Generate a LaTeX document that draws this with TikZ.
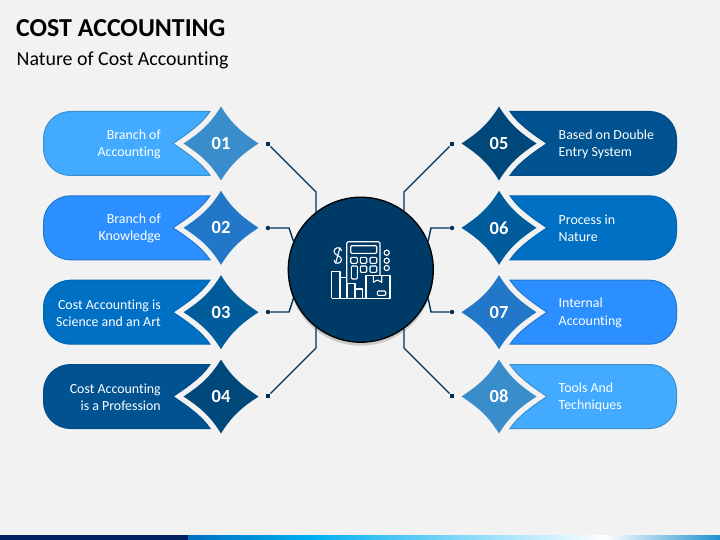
\documentclass[tikz,border=0pt]{standalone}
\usepackage{fontspec}
\setmainfont{Carlito}[Ligatures=NoCommon]
\usetikzlibrary{calc}
\usetikzlibrary{shadows}
\definecolor{pagebg}{HTML}{F2F2F2}
\definecolor{hubblue}{HTML}{003A66}
\definecolor{linkblue}{HTML}{00305A}
\tikzset{
  pill1/.style={fill={rgb,255:red,66;green,171;blue,255},draw={rgb,255:red,58;green,143;blue,207}},
  gem1/.style={fill={rgb,255:red,57;green,141;blue,203}},
  pill2/.style={fill={rgb,255:red,43;green,143;blue,255},draw={rgb,255:red,34;green,119;blue,204}},
  gem2/.style={fill={rgb,255:red,34;green,119;blue,200}},
  pill3/.style={fill={rgb,255:red,0;green,112;blue,196},draw={rgb,255:red,0;green,102;blue,176}},
  gem3/.style={fill={rgb,255:red,0;green,92;blue,155}},
  pill4/.style={fill={rgb,255:red,0;green,82;blue,144},draw={rgb,255:red,0;green,75;blue,132}},
  gem4/.style={fill={rgb,255:red,0;green,71;blue,122}},
  gemnum/.style={text=white,font=\fontsize{18.5}{20}\selectfont\bfseries,inner sep=0pt},
  lefttext/.style={text=white,anchor=east,align=right,inner sep=0pt,font=\fontsize{13.9}{17.3}\selectfont},
  righttext/.style={text=white,anchor=west,align=left,inner sep=0pt,font=\fontsize{13.9}{17.3}\selectfont},
  link/.style={draw=linkblue,line width=1.4pt},
  enddot/.style={fill=linkblue,circle,inner sep=0pt,minimum size=4.5pt},
  endsquare/.style={fill=linkblue,rectangle,inner sep=0pt,minimum size=4.5pt},
  icon/.style={draw=white,line width=1.1pt,line join=round},
}
\newcommand\petal[4]{
\begin{scope}[shift={(360,#2)},xscale=#1]
\path[pill#3,line width=1pt] (150,-32) -- (289.5,-32) arc (-90:0:27) -- (316.5,5) arc (0:90:27) -- (150,32)
  .. controls (158,20) and (172,10) .. (187,0) .. controls (172,-10) and (158,-20) .. (150,-32) -- cycle;
\fill[gem#3] (139,-37) .. controls (149.5,-20) and (159,-11.5) .. (176.5,0) .. controls (159,11.5) and (149.5,20) .. (139,37)
  .. controls (128.5,20) and (119,11.5) .. (101.5,0) .. controls (119,-11.5) and (128.5,-20) .. (139,-37) -- cycle;
\node[gemnum] (n#4) at (139,0) {#4};
\end{scope}
}

\begin{document}
\begin{tikzpicture}[x=1pt,y=-1pt]

\useasboundingbox (0,0) rectangle (720,540);
\fill[pagebg] (0,0) rectangle (720,540);

\node[anchor=base west,inner sep=0pt,font=\fontsize{25.9}{28}\selectfont\bfseries] (title) at (16,36.6) {COST ACCOUNTING};
\node[anchor=base west,inner sep=0pt,font=\fontsize{19.9}{22}\selectfont] (subtitle) at (16.5,66) {Nature of Cost Accounting};

\petal{-1}{143.5}{1}{01}
\petal{-1}{227.8}{2}{02}
\petal{-1}{312.2}{3}{03}
\petal{-1}{396.5}{4}{04}
\petal{1}{143.5}{4}{05}
\petal{1}{227.8}{3}{06}
\petal{1}{312.2}{2}{07}
\petal{1}{396.5}{1}{08}

\node[lefttext] (t01) at (161,144.3) {Branch of\\Accounting};
\node[lefttext] (t02) at (161,228.6) {Branch of\\Knowledge};
\node[lefttext] (t03) at (161,313) {Cost Accounting is\\Science and an Art};
\node[lefttext] (t04) at (161,397.3) {Cost Accounting\\is a Profession};
\node[righttext] (t05) at (558.5,144.3) {Based on Double\\Entry System};
\node[righttext] (t06) at (558.5,228.6) {Process in\\Nature};
\node[righttext] (t07) at (558.5,313) {Internal\\Accounting};
\node[righttext] (t08) at (558.5,397.3) {Tools And\\Techniques};

\node[circle,draw=black,fill=hubblue,line width=1.3pt,minimum size=145pt,inner sep=0pt,
  drop shadow={shadow xshift=0pt,shadow yshift=-3.5pt,opacity=.35}] (hub) at (360.8,269.7) {};

\node[endsquare] (d1) at (268,144) {};
\node[enddot] (d2) at (268,228) {};
\node[enddot] (d3) at (268,312) {};
\node[endsquare] (d4) at (268,396) {};
\node[endsquare] (d5) at (452,144) {};
\node[enddot] (d6) at (452,228) {};
\node[enddot] (d7) at (452,312) {};
\node[endsquare] (d8) at (452,396) {};

\coordinate (k1) at (316,192);
\coordinate (k2) at (289,228);
\coordinate (k3) at (289,312);
\coordinate (k4) at (316,348);
\coordinate (k5) at (404,192);
\coordinate (k6) at (431,228);
\coordinate (k7) at (431,312);
\coordinate (k8) at (404,348);

\draw[link] (d1) -- (k1) -- (k1 |- hub.128);
\draw[link] (d2) -- (k2) -- (hub.157);
\draw[link] (d3) -- (k3) -- (hub.203);
\draw[link] (d4) -- (k4) -- (k4 |- hub.232);
\draw[link] (d5) -- (k5) -- (k5 |- hub.54);
\draw[link] (d6) -- (k6) -- (hub.23);
\draw[link] (d7) -- (k7) -- (hub.-23);
\draw[link] (d8) -- (k8) -- (k8 |- hub.-54);

\draw[icon,rounded corners=1.5pt] (346.7,283) -- (346.7,241.7) -- (380,241.7) -- (380,275.7);
\draw[icon,rounded corners=1pt] (350.7,245.7) rectangle (376.7,253.3);
\draw[icon,rounded corners=1pt] (350.7,257.3) rectangle (357.3,263.3);
\draw[icon,rounded corners=1pt] (360.3,257.3) rectangle (366.7,263.3);
\draw[icon,rounded corners=1pt] (370,257.3) rectangle (376.7,263.3);
\draw[icon,rounded corners=1pt] (360.3,266) rectangle (366.7,272.3);
\draw[icon,rounded corners=1pt] (370,266) rectangle (376.7,272.3);
\draw[icon,rounded corners=1pt] (351.3,266) rectangle (357.3,279);
\draw[icon] (341.5,251) .. controls (341.5,246.5) and (334,246.5) .. (334,251.5) .. controls (334,255.5) and (341.5,255.5) .. (341.5,259.5) .. controls (341.5,264.5) and (334,264.5) .. (334,260);
\draw[icon] (340,247.5) -- (335.5,263.5);
\draw[icon] (386.7,252.7) circle (2.6);
\draw[icon] (386.7,260.7) circle (2.6);
\draw[icon] (386.7,268) circle (2.6);
\draw[icon] (331.7,298.3) -- (331.7,271.7) -- (340,271.7) -- (340,298.3);
\draw[icon] (340,277.7) -- (346.7,277.7) -- (346.7,298.3);
\draw[icon] (347.7,298.3) -- (347.7,283.3) -- (355,283.3) -- (355,298.3);
\draw[icon] (355,289) -- (362.3,289) -- (362.3,298.3);
\draw[icon] (331.7,298.3) -- (390,298.3) -- (390,275.7) -- (366,275.7) -- (366,298.3);
\draw[icon] (373.3,275.7) -- (373.3,282.3) -- (377.5,280) -- (381.7,282.3) -- (381.7,275.7);
\draw[icon,rounded corners=1pt] (377.3,291) rectangle (385.7,295.3);

\fill[fill={rgb,255:red,0;green,32;blue,96}] (0,535) rectangle (188,540);
\shade[left color={rgb,255:red,0;green,112;blue,192},right color={rgb,255:red,0;green,176;blue,240}] (188,535) rectangle (312,540);
\shade[left color={rgb,255:red,0;green,176;blue,240},right color=white] (312,535) rectangle (605,540);
\shade[left color=white,right color={rgb,255:red,30;green,144;blue,208}] (605,535) rectangle (720,540);

\end{tikzpicture}
\end{document}
